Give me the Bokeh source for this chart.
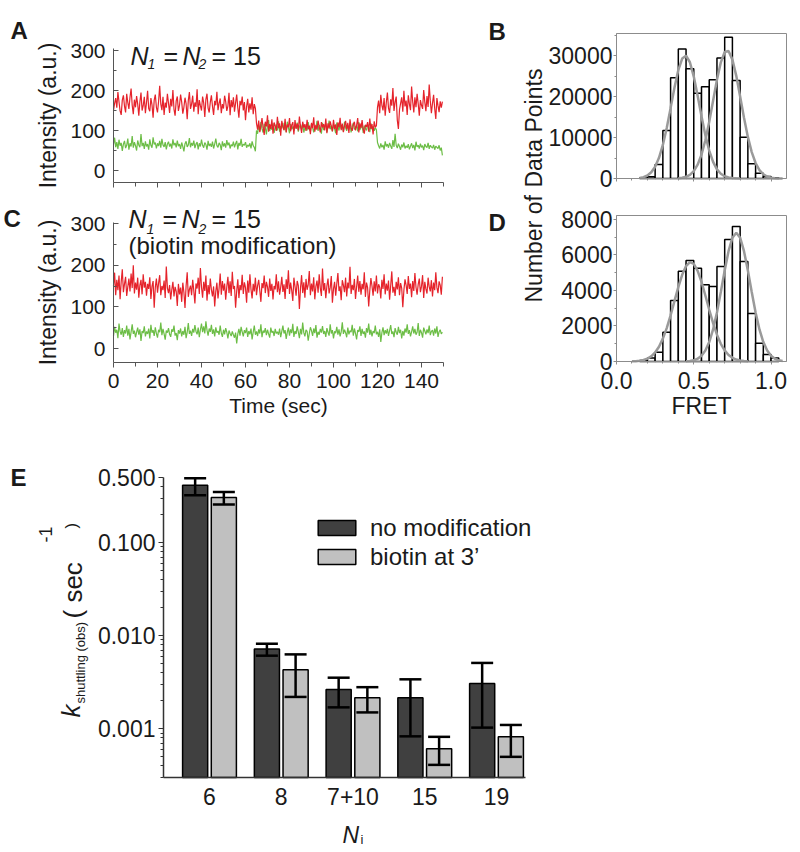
import math
import numpy as np
from bokeh.plotting import figure
from bokeh.layouts import column, row
from bokeh.models import (Label, FixedTicker, Legend, LegendItem, Whisker, TeeHead,
                          ColumnDataSource, CustomJSTickFormatter, PrintfTickFormatter,
                          Range1d, LinearAxis, LogAxis)
from bokeh.embed import file_html
from bokeh.resources import INLINE

# ---------------- data ----------------
SAMPLE_STEP = 0.5  # seconds between trace points
# Panel A: N1 = N2 = 15, intensity traces
RED_A = [150, 168, 181, 157, 196, 172, 149, 139, 176, 188,
         161, 145, 192, 170, 154, 183, 205, 163, 141, 177,
         158, 186, 166, 137, 172, 195, 150, 162, 184, 143,
         170, 199, 155, 148, 181, 164, 132, 176, 190, 158,
         145, 173, 212, 166, 151, 184, 139, 170, 157, 192,
         168, 144, 179, 160, 201, 153, 137, 174, 185, 149,
         163, 190, 171, 142, 158, 182, 167, 128, 175, 196,
         154, 166, 187, 147, 170, 159, 203, 141, 176, 162,
         150, 185, 169, 134, 178, 192, 156, 145, 171, 188,
         160, 139, 174, 163, 197, 151, 168, 180, 143, 166,
         155, 187, 172, 149, 161, 194, 138, 176, 158, 183,
         147, 169, 190, 157, 132, 174, 163, 185, 150, 171,
         126, 160, 179, 145, 168, 152, 183, 141, 166, 155,
         118, 102, 125, 96, 113, 131, 107, 89, 122, 110,
         138, 97, 116, 104, 128, 92, 120, 111, 99, 134,
         106, 118, 87, 124, 109, 101, 129, 95, 115, 108,
         131, 98, 113, 121, 90, 126, 104, 117, 100, 135,
         110, 94, 122, 107, 116, 99, 127, 103, 112, 91,
         119, 106, 133, 97, 114, 102, 125, 109, 95, 121,
         108, 116, 100, 130, 93, 118, 105, 123, 111, 98,
         127, 104, 115, 89, 120, 108, 132, 101, 117, 96,
         112, 124, 103, 119, 94, 128, 107, 99, 115, 122,
         100, 113, 131, 95, 118, 106, 126, 102, 92, 114,
         109, 121, 97, 130, 104, 116, 90, 123, 108, 112,
         158, 175, 143, 189, 163, 150, 181, 137, 170, 195,
         156, 144, 178, 162, 206, 149, 171, 185, 126, 104,
         152, 168, 183, 147, 199, 160, 175, 139, 188, 166,
         151, 210, 172, 145, 183, 158, 192, 167, 137, 176,
         163, 154, 201, 171, 148, 186, 159, 215, 174, 143,
         168, 189, 155, 129, 181, 162, 146, 173, 157, 172]
GREEN_A = [65, 82, 58, 71, 54, 77, 62, 69, 49, 66,
           74, 56, 63, 80, 52, 68, 60, 86, 57, 71,
           62, 50, 75, 64, 58, 91, 61, 69, 54, 73,
           60, 66, 52, 78, 63, 57, 83, 65, 70, 55,
           68, 61, 74, 57, 79, 64, 59, 71, 53, 66,
           72, 60, 67, 55, 78, 63, 69, 58, 75, 61,
           66, 54, 70, 60, 48, 67, 73, 59, 64, 81,
           58, 69, 62, 75, 56, 66, 71, 53, 68, 60,
           77, 63, 57, 70, 65, 52, 74, 61, 67, 59,
           72, 55, 66, 80, 62, 58, 69, 64, 51, 73,
           60, 68, 57, 76, 63, 70, 55, 65, 61, 72,
           58, 67, 74, 53, 69, 62, 79, 59, 66, 63,
           71, 57, 64, 60, 68, 55, 73, 62, 58, 48,
           100, 92, 112, 98, 121, 104, 95, 117, 108, 90,
           113, 126, 99, 110, 102, 118, 94, 107, 115, 100,
           123, 97, 111, 105, 119, 101, 114, 96, 122, 108,
           93, 116, 103, 110, 99, 113, 106, 120, 97, 109,
           115, 102, 118, 95, 107, 112, 100, 121, 104, 98,
           116, 108, 95, 111, 103, 124, 99, 114, 106, 92,
           119, 101, 110, 117, 96, 108, 125, 103, 112, 98,
           115, 105, 93, 120, 109, 100, 118, 104, 111, 97,
           122, 107, 99, 114, 102, 116, 95, 110, 119, 103,
           106, 113, 98, 121, 101, 109, 117, 94, 112, 105,
           100, 115, 108, 96, 118, 103, 111, 99, 107, 102,
           70, 62, 55, 68, 58, 64, 52, 73, 60, 66,
           57, 69, 61, 54, 76, 59, 92, 63, 56, 67,
           60, 52, 65, 58, 70, 55, 62, 57, 66, 53,
           61, 68, 56, 64, 50, 72, 59, 63, 55, 67,
           58, 62, 51, 66, 60, 57, 69, 54, 63, 59,
           56, 64, 52, 61, 58, 55, 63, 50, 57, 38]
# Panel C: biotin modification
RED_C = [150, 182, 128, 165, 140, 175, 118, 160, 190, 135,
         155, 172, 126, 148, 168, 137, 180, 145, 200, 132,
         158, 141, 170, 122, 152, 165, 130, 178, 146, 160,
         127, 155, 143, 171, 119, 149, 162, 98, 147, 168,
         134, 157, 176, 128, 150, 140, 163, 121, 197, 145,
         133, 152, 118, 141, 160, 125, 148, 137, 102, 155,
         130, 146, 112, 158, 135, 97, 150, 183, 124, 142,
         151, 128, 165, 139, 108, 156, 144, 170, 131, 193,
         147, 122, 160, 138, 175, 115, 152, 130, 168, 141,
         125, 149, 101, 137, 158, 120, 145, 180, 129, 162,
         139, 156, 117, 148, 172, 133, 161, 126, 184, 143,
         150, 98, 138, 166, 121, 152, 140, 177, 131, 159,
         146, 110, 163, 134, 178, 142, 120, 155, 137, 170,
         128, 151, 165, 139, 112, 157, 145, 175, 133, 160,
         148, 124, 168, 138, 155, 118, 150, 142, 178, 135,
         161, 129, 147, 172, 136, 154, 119, 166, 143, 188,
         131, 158, 140, 114, 170, 149, 127, 162, 151, 95,
         145, 176, 133, 159, 122, 167, 141, 153, 186, 128,
         156, 137, 171, 118, 149, 163, 134, 178, 145, 126,
         192, 139, 157, 121, 150, 168, 132, 146, 174, 110,
         143, 160, 127, 155, 181, 138, 149, 116, 164, 152,
         135, 170, 125, 158, 144, 196, 131, 153, 140, 167,
         119, 148, 175, 136, 162, 129, 155, 142, 183, 124,
         158, 146, 101, 139, 169, 150, 127, 161, 137, 175,
         132, 154, 147, 120, 165, 143, 178, 130, 156, 139,
         163, 117, 151, 185, 134, 148, 126, 160, 142, 171,
         128, 157, 145, 99, 140, 166, 152, 131, 174, 143,
         156, 123, 162, 138, 181, 147, 129, 154, 168, 135,
         149, 176, 121, 160, 143, 132, 170, 148, 137, 164,
         125, 158, 140, 183, 146, 133, 161, 152, 129, 172]
GREEN_C = [30, 52, 38, 45, 25, 60, 41, 33, 49, 28,
           44, 36, 55, 31, 47, 22, 40, 58, 35, 43,
           27, 39, 50, 33, 46, 18, 42, 37, 53, 29,
           41, 35, 48, 24, 57, 38, 44, 30, 51, 36,
           26, 45, 39, 62, 32, 47, 35, 21, 43, 38,
           49, 34, 28, 46, 40, 55, 31, 37, 20, 44,
           36, 48, 29, 42, 33, 52, 25, 39, 61, 35,
           43, 30, 47, 38, 56, 41, 34, 50, 27, 45,
           60, 39, 53, 36, 65, 44, 31, 48, 40, 57,
           35, 46, 29, 51, 38, 42, 33, 55, 37, 28,
           45, 34, 49, 39, 24, 43, 36, 30, 41, 33,
           26, 38, 12, 35, 47, 31, 52, 40, 29, 44,
           37, 50, 28, 42, 34, 48, 22, 39, 55, 33,
           41, 30, 46, 36, 58, 27, 43, 38, 49, 32,
           45, 35, 26, 50, 38, 42, 30, 47, 36, 40,
           33, 48, 27, 41, 55, 36, 44, 23, 39, 50,
           31, 46, 37, 59, 28, 42, 35, 53, 40, 25,
           47, 34, 62, 38, 29, 45, 41, 19, 36, 51,
           43, 30, 48, 37, 56, 26, 40, 33, 47, 38,
           54, 35, 42, 28, 49, 39, 31, 58, 36, 44,
           24, 41, 37, 52, 33, 46, 29, 40, 63, 35,
           45, 38, 27, 50, 34, 43, 39, 57, 31, 48,
           36, 22, 44, 40, 53, 30, 47, 35, 41, 26,
           49, 38, 60, 33, 45, 29, 42, 37, 55, 34,
           40, 28, 46, 16, 38, 51, 32, 44, 36, 47,
           30, 43, 56, 35, 41, 27, 49, 39, 33, 52,
           37, 45, 24, 42, 31, 48, 38, 58, 35, 44,
           29, 40, 53, 36, 47, 33, 39, 61, 30, 45,
           38, 26, 50, 42, 34, 46, 37, 55, 32, 41,
           44, 31, 48, 36, 53, 28, 40, 45, 35, 39]

# Panels B / D: FRET histograms (bin left edges, width 0.05)
HIST_LEFT = [0.15, 0.20, 0.25, 0.30, 0.35, 0.40, 0.45, 0.50, 0.55,
             0.60, 0.65, 0.70, 0.75, 0.80, 0.85, 0.90, 0.95, 1.00]
HIST_WIDTH = 0.05
COUNTS_B = [100, 400, 3400, 11700, 24600, 31600, 26800, 20800, 22400,
            24100, 29400, 34500, 23900, 10100, 3600, 1300, 500, 200]
COUNTS_D = [60, 200, 520, 1650, 3440, 5090, 5690, 5260, 4320,
            4230, 5350, 6870, 7600, 5630, 2700, 1030, 390, 200]
# Gaussian fit curves, read point by point
FIT_B1_X = [round(0.15 + 0.025 * i, 3) for i in range(27)]
FIT_B1_Y = [140, 333, 738, 1511, 2869, 5040, 8190, 12330, 17180, 22180, 26470, 29270,
            29990, 28380, 24890, 20210, 15180, 10570, 6810, 4060, 2240, 1150, 540, 237, 96, 35, 12]
FIT_B2_X = [round(0.40 + 0.025 * i, 3) for i in range(28)]
FIT_B2_Y = [68, 174, 410, 894, 1805, 3372, 5825, 9330, 13840, 18980, 24110, 28350, 30870,
            31110, 29020, 25060, 20040, 14830, 10160, 6450, 3780, 2060, 1036, 483, 208, 83, 30, 10]
FIT_D1_X = [round(0.10 + 0.025 * i, 3) for i in range(31)]
FIT_D1_Y = [8, 18, 40, 82, 160, 293, 508, 833, 1289, 1884, 2603, 3397, 4189, 4881, 5376, 5594,
            5500, 5109, 4484, 3719, 2914, 2159, 1510, 998, 624, 368, 206, 108, 54, 25, 11]
FIT_D2_X = [round(0.45 + 0.025 * i, 3) for i in range(26)]
FIT_D2_Y = [11, 28, 68, 153, 318, 614, 1095, 1808, 2763, 3911, 5123, 6213, 6976, 7250,
            6976, 6213, 5123, 3911, 2763, 1808, 1095, 614, 318, 153, 68, 28]

# Panel E: shuttling rates
CATEGORIES = ["6", "8", "7+10", "15", "19"]
NOMOD_K = [0.413, 0.0072, 0.00265, 0.00215, 0.00306]
NOMOD_HI = [0.49, 0.0082, 0.00354, 0.0034, 0.0051]
NOMOD_LO = [0.322, 0.0061, 0.0017, 0.00083, 0.00103]
BIOTIN_K = [0.304, 0.0043, 0.00215, 0.00061, 0.00082]
BIOTIN_HI = [0.35, 0.0063, 0.0028, 0.00082, 0.0011]
BIOTIN_LO = [0.257, 0.0022, 0.0015, 0.00041, 0.0005]

# ---------------- style ----------------
FONT = "Liberation Sans"
TXT = "#1a1a1a"
RED = "#e5232b"
GREEN = "#6cbd46"
DARK = "#404040"
LIGHT = "#c0c0c0"


def make_fig(w, h, frame, xr, yr, log_y=False):
    """frame = (left, right, top, bottom) in canvas px of the data window; the
    whole canvas is the plot frame, axes are drawn at fixed locations."""
    l, r, t, b = frame
    ppx = (r - l) / (xr[1] - xr[0])
    x_start, x_end = xr[0] - l / ppx, xr[1] + (w - r) / ppx
    if log_y:
        y0, y1 = math.log10(yr[0]), math.log10(yr[1])
    else:
        y0, y1 = yr
    ppy = (b - t) / (y1 - y0)
    y_start, y_end = y0 - (h - b) / ppy, y1 + t / ppy
    if log_y:
        y_start, y_end = 10 ** y_start, 10 ** y_end
    p = figure(width=w, height=h, x_range=Range1d(x_start, x_end),
               y_range=Range1d(y_start, y_end), y_axis_type="log" if log_y else "linear",
               x_axis_location=None, y_axis_location=None,
               output_backend="svg", toolbar_location=None, min_border=0)
    p.grid.visible = False
    p.outline_line_color = None
    p.background_fill_color = "white"
    p.border_fill_color = "white"
    xa = LinearAxis(fixed_location=yr[0], bounds=xr)
    ya = (LogAxis if log_y else LinearAxis)(fixed_location=xr[0], bounds=yr)
    for ax in (xa, ya):
        ax.major_label_text_font = FONT
        ax.major_label_text_color = TXT
        ax.axis_label_text_font = FONT
        ax.axis_label_text_font_style = "normal"
        ax.axis_label_text_color = TXT
    p.add_layout(xa, "below")
    p.add_layout(ya, "left")
    return p, xa, ya


CANVAS = {}  # key -> (left, bottom) of that canvas in page px


def lab(p, key, text, X, Y, size, style="normal", angle=0.0):
    x0, yb = CANVAS[key]
    p.add_layout(Label(x=X - x0, y=yb - Y, x_units="screen", y_units="screen", text=text,
                       text_font=FONT, text_font_size=f"{size}px", text_font_style=style,
                       text_color=TXT, angle=angle, text_align="left",
                       text_baseline="alphabetic"))


def no_labels(ax):
    ax.major_label_text_font_size = "0px"
    ax.major_label_standoff = 0
    ax.formatter = CustomJSTickFormatter(code="return ''")


def trace_fig(h, frame, yr, red, green, show_x):
    p, xa, ya = make_fig(478, h, frame, (0, 150), yr)
    t = np.arange(len(green)) * SAMPLE_STEP
    p.line(t, green, line_color=GREEN, line_width=1.2)
    t = np.arange(len(red)) * SAMPLE_STEP
    p.line(t, red, line_color=RED, line_width=1.2)
    for ax in (ya, xa):
        ax.axis_line_color = "#555555"
        ax.major_tick_line_color = "#555555"
        ax.minor_tick_line_color = "#555555"
    ya.ticker = FixedTicker(ticks=[0, 100, 200, 300], minor_ticks=[50, 150, 250])
    ya.major_tick_in, ya.major_tick_out = 5, 0
    ya.minor_tick_in, ya.minor_tick_out = 3, 0
    ya.major_label_text_font_size = "21px"
    ya.major_label_standoff = 8
    ya.axis_label = "Intensity (a.u.)"
    ya.axis_label_text_font_size = "23px"
    ya.axis_label_standoff = 6
    xa.ticker = FixedTicker(ticks=list(range(0, 150, 20)), minor_ticks=list(range(10, 160, 20)))
    xa.major_tick_in, xa.major_tick_out = 0, 5
    xa.minor_tick_in, xa.minor_tick_out = 0, 4
    if show_x:
        xa.major_label_text_font_size = "21px"
        xa.major_label_standoff = 6
        xa.axis_label = "Time (sec)"
        xa.axis_label_text_font_size = "21px"
        xa.axis_label_standoff = 3
    else:
        no_labels(xa)
    return p


def hist_fig(h, frame, ymax, counts, fits, yticks, yminor, show_x):
    p, xa, ya = make_fig(314, h, frame, (0, 1.1), (0, ymax))
    lefts = np.array(HIST_LEFT)
    p.quad(left=lefts, right=lefts + HIST_WIDTH, bottom=0, top=counts,
           fill_color="white", line_color="black", line_width=1.5)
    for fx, fy in fits:
        p.line(fx, fy, line_color="#9a9a9a", line_width=2.5)
    # grey box round the data window
    p.quad(left=[0], right=[1.1], bottom=[0], top=[ymax], fill_color=None,
           line_color="#8c8c8c", line_width=1)
    for ax in (ya, xa):
        ax.axis_line_color = "#8c8c8c"
        ax.major_tick_line_color = "#8c8c8c"
        ax.minor_tick_line_color = "#8c8c8c"
        ax.major_tick_in, ax.major_tick_out = 0, 3
        ax.minor_tick_in, ax.minor_tick_out = 0, 2
    ya.ticker = FixedTicker(ticks=yticks, minor_ticks=yminor)
    ya.major_label_text_font_size = "23px"
    ya.major_label_standoff = 1
    xa.ticker = FixedTicker(ticks=[0.0, 0.5, 1.0], minor_ticks=[0.1, 0.2, 0.3, 0.4, 0.6, 0.7, 0.8, 0.9])
    if show_x:
        xa.formatter = PrintfTickFormatter(format="%.1f")
        xa.major_label_text_font_size = "23px"
        xa.major_label_standoff = 7
        xa.axis_label = "FRET"
        xa.axis_label_text_font_size = "23px"
        xa.axis_label_standoff = 1
    else:
        no_labels(xa)
    return p


# ---------------- panel A ----------------
CANVAS["A"] = (0, 196)
pA = trace_fig(196, (113, 443, 48, 182), (-30, 305), RED_A, GREEN_A, False)
lab(pA, "A", "A", 10, 30, 24, "bold")
lab(pA, "A", "N", 130, 55, 25, "italic")
lab(pA, "A", "1", 147, 63, 14, "italic")
lab(pA, "A", "=", 163, 55, 25)
lab(pA, "A", "N", 182, 55, 25, "italic")
lab(pA, "A", "2", 198, 63, 14, "italic")
lab(pA, "A", "= 15", 211, 55, 25)

# ---------------- panel C ----------------
CANVAS["C"] = (0, 425)
pC = trace_fig(229, (113, 443, 26, 166), (-33.6, 302.4), RED_C, GREEN_C, True)
lab(pC, "C", "C", 3, 218, 24, "bold")
lab(pC, "C", "N", 128, 218, 25, "italic")
lab(pC, "C", "1", 146, 228, 14, "italic")
lab(pC, "C", "=", 162, 218, 25)
lab(pC, "C", "N", 181, 218, 25, "italic")
lab(pC, "C", "2", 198, 228, 14, "italic")
lab(pC, "C", "= 15", 211, 218, 25)
lab(pC, "C", "(biotin modification)", 128, 245, 24)

# ---------------- panel B ----------------
CANVAS["B"] = (478, 194)
pB = hist_fig(194, (138, 308, 33, 178), 35400, COUNTS_B,
              [(FIT_B1_X, FIT_B1_Y), (FIT_B2_X, FIT_B2_Y)],
              [0, 10000, 20000, 30000], [5000, 15000, 25000, 35000], False)
lab(pB, "B", "B", 488, 31, 24, "bold")
lab(pB, "B", "Data Points", 533, 187, 23, angle=math.pi / 2)

# ---------------- panel D ----------------
CANVAS["D"] = (478, 425)
pD = hist_fig(231, (138, 308, 21, 167), 8225, COUNTS_D,
              [(FIT_D1_X, FIT_D1_Y), (FIT_D2_X, FIT_D2_Y)],
              [0, 2000, 4000, 6000, 8000], [1000, 3000, 5000, 7000], True)
lab(pD, "D", "D", 488, 222, 24, "bold")
lab(pD, "D", "Number of", 533, 302, 23, angle=math.pi / 2)

# ---------------- panel E ----------------
CANVAS["E"] = (0, 847)
YMIN = 0.0003
pE, xa, ya = make_fig(792, 422, (163, 525, 52, 352), (-0.641, 4.404), (YMIN, 0.5), log_y=True)
pos = np.arange(len(CATEGORIES))
rd = pE.vbar(x=pos - 0.2, top=NOMOD_K, bottom=YMIN, width=0.35,
             fill_color=DARK, line_color="black", line_width=1.5)
rl = pE.vbar(x=pos + 0.2, top=BIOTIN_K, bottom=YMIN, width=0.35,
             fill_color=LIGHT, line_color="black", line_width=1.5)
for xs, hi, lo in ((pos - 0.2, NOMOD_HI, NOMOD_LO), (pos + 0.2, BIOTIN_HI, BIOTIN_LO)):
    src = ColumnDataSource(dict(x=xs, upper=hi, lower=lo))
    w = Whisker(base="x", upper="upper", lower="lower", source=src,
                line_color="black", line_width=2.5, level="overlay",
                upper_head=TeeHead(size=22, line_width=2.5, line_color="black"),
                lower_head=TeeHead(size=22, line_width=2.5, line_color="black"))
    pE.add_layout(w)

for ax in (ya, xa):
    ax.axis_line_color = "#333333"
    ax.axis_line_width = 1.5
    ax.major_tick_line_color = "#333333"
    ax.minor_tick_line_color = "#333333"
ya.ticker = FixedTicker(
    ticks=[0.001, 0.01, 0.1, 0.5],
    minor_ticks=[m * 10.0 ** e for e in (-4, -3, -2, -1) for m in range(2, 10)
                 if YMIN < m * 10.0 ** e < 0.5])
ya.formatter = PrintfTickFormatter(format="%.3f")
ya.major_tick_in, ya.major_tick_out = 0, 5
ya.minor_tick_in, ya.minor_tick_out = 0, 3
ya.major_label_text_font_size = "23px"
ya.major_label_standoff = 3
xa.ticker = FixedTicker(ticks=list(pos))
xa.major_label_overrides = {int(i): c for i, c in zip(pos, CATEGORIES)}
xa.major_tick_in = xa.major_tick_out = 0
xa.minor_tick_in = xa.minor_tick_out = 0
xa.major_label_text_font_size = "23px"
xa.major_label_standoff = 10

legend = Legend(items=[LegendItem(label="no modification", renderers=[rd]),
                       LegendItem(label="biotin at 3\u2019", renderers=[rl])],
                location=(313, 276), glyph_width=47, glyph_height=19, label_height=29,
                spacing=0, padding=0, margin=0, border_line_color=None,
                background_fill_alpha=0, label_text_font=FONT, label_text_font_size="24px",
                label_text_color=TXT, label_standoff=10)
pE.add_layout(legend)

lab(pE, "E", "E", 10, 477, 24, "bold")
lab(pE, "E", "k", 70, 717, 26, "italic", math.pi / 2)
lab(pE, "E", "shuttling (obs)", 80, 703, 13, angle=math.pi / 2)
lab(pE, "E", "( sec", 72, 618, 26, angle=math.pi / 2)
lab(pE, "E", "-1", 45, 542, 18, angle=math.pi / 2)
lab(pE, "E", ")", 71, 528, 17, angle=math.pi / 2)
lab(pE, "E", "N", 342, 834, 23, "italic")
lab(pE, "E", "i", 360, 839, 13)

layout = column(row(column(pA, pC), column(pB, pD)), pE)
open("out.html", "w").write(file_html(layout, INLINE))
